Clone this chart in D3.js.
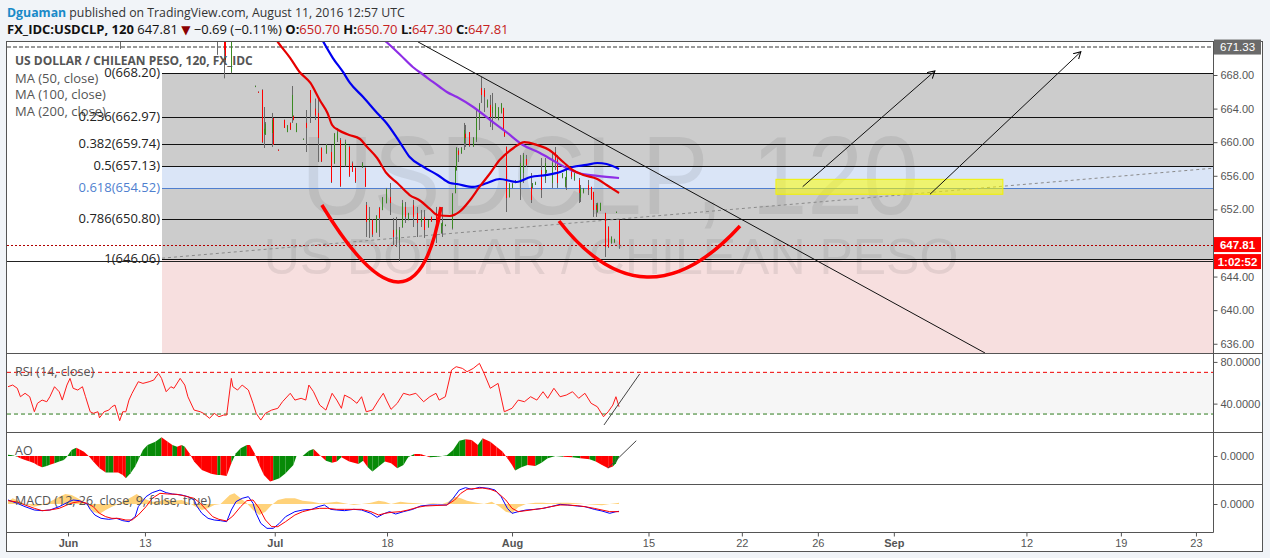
<!DOCTYPE html>
<html>
<head>
<meta charset="utf-8">
<script src="https://cdnjs.cloudflare.com/ajax/libs/d3/7.8.5/d3.min.js"></script>
<style>
  body { margin: 0; background: #f1f4f8; }
  svg { display: block; font-family: "Open Sans", sans-serif; }
  .ax text { font-family: "Liberation Sans", Arial, sans-serif; font-size: 11px; fill: #555; }
  .ax line { stroke: #555; }
  .ax path { display: none; }
</style>
</head>
<body>
<div id="chart"></div>
<script>
//Datos (indice de barra de 2 horas, valor)
const timeTickBars = [38.7, 88.3, 172, 244.4, 325, 413, 473.2, 522.2, 571.2, 656.7, 717.6, 766];
const timeTickLabels = ['Jun', '13', 'Jul', '18', 'Aug', '15', '22', '26', 'Sep', '12', '19', '23'];
const priceTicks = [636, 640, 644, 648, 652, 656, 660, 664, 668];

//[barra, apertura, maximo, minimo, cierre]
const candles = [
  [72, 673.6, 674.2, 671.1, 672.5], [135, 672.8, 674.0, 670.4, 673.2], [139, 673.5, 674.0, 667.6, 671.0],
  [140, 673.0, 674.0, 669.5, 669.8], [144, 668.4, 674.0, 668.2, 673.0],
  [159, 666.6, 666.75, 666.55, 666.7], [161, 666.0, 666.05, 665.9, 665.95], [164, 666.21, 666.3, 659.9, 660.0],
  [165, 661.0, 664.19, 659.31, 661.6], [166, 660.9, 662.4, 660.86, 662.2], [170, 661.1, 663.48, 659.43, 662.64],
  [171, 662.88, 662.9, 659.67, 659.7], [174, 659.1, 659.15, 659.0, 659.05], [178, 662.64, 662.7, 661.69, 661.7],
  [180, 661.2, 662.05, 661.2, 662.0], [182, 662.3, 662.35, 661.45, 661.5], [183, 663.0, 666.69, 662.29, 665.62],
  [184, 663.1, 663.2, 662.6, 662.64], [186, 661.2, 662.29, 661.21, 662.2], [190, 660.3, 660.45, 660.3, 660.4],
  [192, 662.3, 663.83, 658.83, 661.7], [195, 666.2, 666.21, 662.29, 664.7], [198, 664.0, 665.2, 662.64, 663.2],
  [200, 663.48, 665.38, 657.64, 660.5], [202, 659.31, 659.4, 657.64, 657.7], [205, 658.71, 659.8, 658.6, 659.67],
  [208, 658.83, 659.67, 655.14, 655.26], [210, 657.52, 661.1, 657.4, 661.0], [212, 660.3, 661.69, 660.02, 661.2],
  [214, 660.26, 660.5, 654.67, 654.8], [217, 657.29, 660.3, 657.1, 660.0], [220, 659.43, 659.6, 655.86, 656.0],
  [222, 657.5, 657.7, 656.45, 656.5], [224, 656.93, 657.0, 655.14, 655.3], [228, 657.0, 657.64, 656.93, 657.5],
  [230, 656.93, 657.0, 654.67, 654.7], [231, 652.52, 652.88, 648.71, 650.5], [233, 650.5, 652.29, 648.6, 651.0],
  [235, 650.74, 650.8, 648.71, 649.0], [237, 649.3, 651.33, 649.2, 651.2], [239, 652.17, 652.29, 648.71, 650.98],
  [241, 651.93, 653.48, 651.9, 653.4], [244, 652.76, 654.55, 652.7, 654.4], [246, 653.48, 655.14, 651.33, 652.76],
  [248, 649.55, 650.98, 647.76, 648.71], [250, 649.0, 651.1, 647.52, 649.6], [252, 648.36, 649.9, 645.74, 649.55],
  [254, 649.9, 653.12, 649.8, 652.76], [256, 652.29, 652.88, 650.38, 651.1], [258, 650.74, 651.6, 650.7, 651.57],
  [261, 652.52, 653.12, 649.9, 651.1], [264, 651.57, 652.29, 648.71, 650.38], [266, 650.5, 651.93, 649.9, 651.0],
  [268, 651.1, 651.93, 648.6, 649.55], [271, 649.9, 650.74, 649.8, 650.7], [273, 651.1, 651.15, 650.5, 650.55],
  [276, 651.57, 652.29, 648.0, 649.9], [279, 649.19, 650.38, 649.1, 650.3], [280, 650.0, 652.29, 648.71, 650.5],
  [282, 650.1, 650.2, 650.0, 650.15], [286, 649.79, 653.95, 649.6, 653.8], [288, 653.95, 657.05, 653.9, 657.0],
  [289, 656.69, 659.43, 656.6, 659.3], [290, 659.0, 659.31, 657.64, 658.5], [292, 658.71, 659.43, 658.6, 659.3],
  [294, 659.9, 662.29, 659.07, 661.45], [295, 661.0, 662.05, 659.43, 660.5], [297, 661.2, 661.21, 659.43, 659.6],
  [300, 659.5, 660.62, 659.43, 660.5], [302, 660.3, 663.83, 660.02, 662.9], [304, 662.8, 664.67, 661.45, 664.5],
  [305, 666.45, 667.76, 664.67, 665.62], [307, 666.2, 666.45, 663.6, 665.4], [309, 664.2, 665.1, 664.1, 665.0],
  [311, 664.43, 665.62, 661.81, 663.0], [312, 663.5, 665.86, 661.45, 664.2], [314, 662.9, 664.67, 662.8, 664.5],
  [316, 662.7, 664.19, 662.6, 664.1], [318, 663.5, 664.67, 663.4, 664.6], [319, 664.07, 664.1, 661.45, 661.5],
  [320, 661.4, 661.45, 660.62, 660.7], [321, 659.43, 659.5, 651.69, 653.36], [323, 653.48, 655.14, 653.4, 655.0],
  [325, 654.6, 655.14, 654.5, 655.0], [327, 655.2, 655.5, 655.1, 655.45], [330, 655.14, 658.48, 653.12, 657.52],
  [332, 656.33, 658.71, 655.14, 658.48], [334, 658.0, 658.48, 657.05, 657.3], [337, 654.67, 656.33, 652.76, 653.12],
  [338, 654.6, 655.14, 654.5, 655.1], [340, 654.95, 655.3, 654.9, 655.25], [344, 656.69, 658.12, 653.36, 654.31],
  [346, 655.5, 658.12, 655.14, 657.52], [347, 656.5, 656.7, 656.3, 656.69], [351, 655.14, 658.71, 654.55, 657.52],
  [353, 658.83, 659.43, 656.69, 657.88], [354, 657.88, 658.48, 654.55, 655.14], [357, 655.8, 656.33, 655.7, 656.3],
  [359, 654.7, 655.86, 654.6, 655.8], [360, 655.5, 657.29, 654.31, 657.0], [363, 656.5, 656.7, 655.6, 655.9],
  [365, 655.5, 656.33, 655.4, 656.3], [368, 655.5, 655.74, 652.76, 653.95], [369, 653.4, 654.9, 652.88, 654.6],
  [371, 654.0, 654.55, 653.9, 654.5], [374, 654.9, 655.5, 653.71, 654.31], [376, 654.67, 654.7, 653.12, 653.2],
  [377, 654.07, 654.1, 651.1, 651.93], [379, 652.52, 652.76, 651.1, 651.93], [380, 651.69, 652.8, 651.6, 652.7],
  [382, 651.9, 652.8, 651.8, 652.76], [385, 651.57, 651.6, 646.33, 647.52], [387, 649.9, 650.0, 647.4, 647.52],
  [389, 648.0, 648.8, 647.9, 648.7], [391, 648.1, 648.5, 648.0, 648.4], [392, 651.6, 651.75, 651.6, 651.7],
  [394, 650.70, 650.70, 647.30, 647.81]
];

//Medias moviles
const ma50 = [[168, 673.6], [174, 671.93], [182, 670.02], [188, 668.36], [195, 667.05], [201, 665.02], [206, 663.48],
  [209, 662.05], [213, 661.45], [220, 660.86], [227, 660.38], [231, 659.55], [238, 658.12], [244, 656.33], [251, 655.14],
  [259, 653.71], [266, 653.0], [272, 652.05], [277, 651.33], [285, 651.21], [291, 651.69], [298, 653.12], [304, 654.67],
  [311, 656.33], [317, 657.88], [326, 659.31], [333, 660.02], [341, 659.67], [349, 659.07], [358, 657.64], [364, 656.69],
  [371, 656.10], [380, 655.62], [386, 654.90], [394, 653.95]];
const ma100 = [[202, 672.40], [209.5, 670.02], [216, 668.36], [220.5, 667.05], [229, 665.38], [238, 663.48], [244, 662.29],
  [253, 659.90], [259, 658.24], [268, 657.05], [277, 656.10], [285, 655.14], [289.5, 655.02], [300, 654.67], [309, 655.14],
  [317, 655.62], [328, 655.26], [337, 655.86], [347.5, 656.10], [356, 656.45], [364, 657.05], [373, 657.29], [380, 657.52],
  [386, 657.40], [394, 656.81]];
const ma200 = [[233, 673.60], [244, 671.93], [253, 670.38], [261, 668.95], [268, 668.0], [274, 667.17], [278.5, 666.57],
  [283, 665.98], [289.5, 665.38], [300, 664.19], [311, 662.64], [322, 661.10], [332, 659.67], [343, 658.71], [351, 657.88],
  [360, 656.93], [368, 656.33], [380, 655.98], [394, 655.74]];

//Fibonacci
const fibLevels = [0, 0.236, 0.382, 0.5, 0.618, 0.786, 1, 1.618];
const fibHigh = 668.20, fibLow = 646.06, fibStartBar = 99.3;

//Dibujos
const highLine = 671.33, lastPrice = 647.81, supportLine = 645.9;
const downTrend = [[264.3, 671.95], [630, 634.9]];
const upTrend = [[99.3, 646.19], [777, 656.9]];
const yellowBox = [[495.2, 655.58], [641.5, 653.80]];
const arrows = [[[512.4, 654.70], [597.7, 668.48]], [[594.5, 653.80], [691.8, 670.77]]];
const cups = [[[202.4, 652.52], [251.5, 643.36], [279.2, 652.29]], [[355.3, 650.62], [412, 643.95], [472, 650.02]]];

//RSI
const rsi = [[0,56.2],[3,57.8],[6,54.7],[8,46.6],[11,49.9],[14,46.6],[17,32.2],[19,40.3],[22,43.4],[25,41.8],[27,46.6],
  [30,56.2],[33,51.4],[35,43.4],[38,57.8],[40,64.2],[42,54.7],[45,53.0],[48,56.2],[50,46.6],[53,32.2],[55,30.7],[58,32.2],
  [59,26.4],[62,32.2],[65,33.8],[67,37.0],[69,38.6],[72,23.6],[74,32.2],[76,32.2],[78,43.4],[80,49.9],[84,61.0],[87,59.4],
  [91,61.0],[94,62.6],[97,69.0],[99,64.2],[102,51.4],[105,56.2],[107,54.7],[111,64.2],[114,57.8],[116,46.6],[120,33.8],
  [124,32.2],[126,30.7],[130,25.9],[133,30.7],[136,27.4],[139,29.0],[141,29.0],[144,64.2],[145,56.2],[148,53.0],[151,57.8],
  [155,53.0],[158,40.3],[160,30.7],[163,24.2],[166,30.7],[170,33.8],[174,35.5],[177,41.8],[182,49.9],[185,43.4],[189,45.1],
  [192,43.4],[194,57.8],[197,51.4],[201,38.6],[205,33.8],[209,49.9],[212,43.4],[215,35.5],[217,48.2],[221,45.1],[225,40.3],
  [228,46.6],[231,32.2],[235,33.8],[239,43.4],[242,49.9],[244,43.4],[247,34.5],[251,40.3],[255,49.9],[259,48.2],[263,49.9],
  [268,41.8],[272,46.6],[276,49.9],[278,43.4],[282,46.6],[286,72.2],[289,75.4],[293,73.8],[296,70.6],[300,73.8],[304,78.6],
  [307,69.0],[311,54.7],[316,59.4],[320,32.2],[325,35.5],[329,43.4],[333,41.8],[337,46.6],[341,43.4],[345,51.4],[348,45.1],
  [352,54.7],[356,46.6],[360,48.2],[364,51.4],[368,45.1],[372,49.9],[376,40.3],[380,37.0],[384,27.4],[387,32.2],[390,38.6],
  [392,46.6],[394,37.0]];
const rsiUpper = 70, rsiLower = 30;
const rsiTrend = [[384.3, 19.5], [407.3, 68.4]];

//Awesome Oscillator [barra, valor, color]
const ao = [[0,0.37,'g'],[3,0.19,'g'],[6,-0.19,'r'],[8,-0.65,'r'],[11,-1.11,'r'],[14,-1.57,'r'],[17,-2.04,'r'],[19,-2.59,'r'],
  [22,-3.15,'g'],[25,-2.78,'g'],[27,-2.41,'r'],[30,-2.04,'g'],[33,-1.57,'g'],[36,-1.11,'g'],[38,-0.19,'g'],[41,1.67,'g'],
  [44,2.31,'r'],[46,1.85,'r'],[49,1.2,'r'],[52,0,'r'],[55,-1.57,'r'],[59,-3.43,'r'],[63,-4.63,'g'],[65,-4.63,'g'],
  [68,-4.63,'r'],[71,-4.63,'r'],[74,-5.28,'r'],[76,-6.2,'g'],[79,-4.81,'g'],[82,-2.96,'g'],[84,-1.11,'g'],[87,1.67,'g'],
  [90,3.06,'g'],[95,3.98,'g'],[99,5.19,'r'],[103,3.98,'r'],[106,3.06,'g'],[109,2.59,'r'],[112,3.06,'g'],[114,2.59,'r'],
  [117,0.74,'r'],[120,-1.57,'r'],[125,-3.89,'r'],[131,-4.98,'r'],[135,-5.28,'g'],[137,-5.28,'r'],[141,-5.56,'r'],
  [144,-2.04,'g'],[147,0.74,'g'],[150,2.13,'g'],[154,3.06,'r'],[156,3.06,'r'],[159,0.74,'r'],[162,-2.5,'r'],[165,-5.28,'r'],
  [169,-7.13,'r'],[171,-6.85,'g'],[175,-6.2,'g'],[179,-4.81,'g'],[184,-2.5,'g'],[186,0,'r'],[190,0,'g'],[194,1.48,'g'],
  [197,1.94,'r'],[201,0.28,'r'],[205,-1.3,'g'],[209,-1.85,'r'],[212,-1.57,'g'],[215,-0.37,'r'],[220,-1.57,'r'],
  [226,-2.22,'g'],[229,-1.3,'r'],[232,-3.15,'g'],[235,-4.35,'g'],[239,-2.96,'g'],[243,-1.57,'r'],[247,-2.04,'r'],
  [251,-3.43,'g'],[255,-2.5,'g'],[258,-0.37,'g'],[262,0.56,'r'],[266,0.56,'r'],[272,-0.37,'g'],[277,-0.19,'g'],
  [283,0.19,'g'],[287,1.67,'g'],[291,4.26,'g'],[295,4.63,'r'],[299,4.44,'r'],[303,3.06,'g'],[306,4.91,'r'],[311,3.98,'r'],
  [315,2.59,'r'],[319,1.2,'r'],[322,-0.65,'r'],[325,-2.5,'r'],[327,-4.07,'g'],[331,-3.15,'g'],[335,-2.5,'r'],[340,-2.78,'g'],
  [344,-1.85,'g'],[348,-0.65,'g'],[353,0,'g'],[358,-0.19,'r'],[364,-0.37,'g'],[369,-0.65,'r'],[375,-0.93,'g'],
  [379,-1.57,'r'],[383,-2.5,'r'],[387,-3.43,'r'],[390,-2.96,'g'],[392,-2.04,'g'],[394,-0.19,'g']];
const aoTrend = [[386.8, -3.42], [405.1, 4.25]];

//MACD
const macd = [[0,0.6],[6,0.1],[11,-0.4],[17,-0.9],[22,-1.0],[27,-0.9],[33,-0.4],[38,0.2],[42,0.6],[46,0.5],[51,0],[53,-0.8],
  [56,-1.65],[60,-2.15],[65,-2.3],[70,-2.15],[74,-2.5],[78,-2.65],[82,-1.9],[84,-0.4],[89,1.1],[93,1.7],[98,2.1],[102,1.7],
  [106,1.5],[112,1.35],[116,1.1],[120,0.6],[122,-0.4],[125,-1.4],[129,-2.15],[133,-2.4],[137,-2.5],[141,-2.65],[144,-0.9],
  [147,0.35],[151,0.85],[155,1.1],[158,0.1],[160,-1.4],[163,-2.9],[167,-3.65],[171,-3.65],[175,-2.9],[179,-1.9],[185,-1.15],
  [190,-0.9],[196,-0.8],[200,-0.4],[204,-0.15],[208,-0.8],[212,-0.9],[217,-1.0],[223,-0.8],[228,-0.9],[234,-1.4],[238,-2.0],
  [242,-1.5],[246,-1.15],[250,-1.5],[255,-1.15],[261,-0.8],[266,-0.3],[272,-0.15],[277,-0.15],[283,-0.15],[287,0.85],
  [291,2.1],[295,2.45],[299,2.2],[304,2.5],[310,2.35],[314,2.1],[318,1.1],[322,-0.65],[325,-1.4],[329,-1.15],[334,-0.9],
  [340,-0.8],[345,-0.65],[350,-0.4],[356,-0.05],[361,-0.15],[367,-0.3],[372,-0.4],[378,-0.8],[383,-1.05],[388,-1.4],
  [392,-1.15],[394,-1.1]];
const signal = [[0,0.5],[6,0.3],[11,-0.15],[17,-0.65],[22,-1.0],[27,-0.9],[33,-0.65],[38,-0.15],[42,0.2],[46,0.35],[51,0.1],
  [55,-0.4],[59,-1.4],[63,-1.9],[67,-2.15],[71,-2.15],[76,-2.4],[80,-2.4],[84,-1.65],[89,-0.4],[93,0.85],[98,1.6],[103,1.5],
  [109,1.45],[114,1.2],[120,0.85],[124,0.1],[128,-0.9],[132,-1.9],[136,-2.3],[141,-2.55],[145,-1.8],[150,-0.4],[154,0.5],
  [158,0.6],[162,-0.65],[166,-2.4],[170,-3.4],[174,-3.4],[179,-2.65],[185,-1.65],[190,-1.15],[196,-0.8],[201,-0.65],
  [206,-0.65],[212,-0.8],[217,-0.8],[223,-0.8],[228,-0.8],[234,-1.15],[239,-1.65],[243,-1.4],[247,-1.25],[253,-1.15],
  [258,-0.9],[264,-0.5],[269,-0.3],[274,-0.25],[283,-0.15],[288,0.6],[292,1.6],[296,2.2],[300,2.3],[306,2.4],[311,2.2],
  [315,1.85],[321,0.6],[325,-0.65],[329,-1.15],[334,-1.0],[340,-0.8],[345,-0.65],[350,-0.4],[356,-0.15],[361,-0.15],
  [367,-0.25],[372,-0.4],[378,-0.65],[383,-0.9],[388,-1.15],[392,-1.15],[394,-1.15]];
const macdHist = [[0,0.35],[3,0.85],[7,0.5],[11,0],[17,-0.4],[22,-0.15],[27,0.35],[33,1.1],[37,1.5],[41,1.35],[45,0.85],
  [49,0.35],[52,-0.4],[55,-1.15],[59,-1.5],[63,-0.9],[67,-0.4],[71,0],[76,0.6],[80,1.1],[83,1.5],[87,0.85],[93,0.35],
  [97,0.35],[101,0.7],[106,0.5],[112,0.6],[117,0.1],[121,-0.4],[125,-0.9],[129,-0.65],[133,-0.15],[137,0],[143,1.35],
  [146,1.6],[150,0.85],[154,0.1],[158,-0.9],[162,-1.65],[166,-1.15],[170,-0.15],[174,0.6],[179,0.85],[185,0.85],[190,0.5],
  [196,0.35],[201,0.1],[206,0.2],[212,0.35],[217,0.1],[223,-0.15],[228,0],[234,0.2],[239,0.5],[243,0.35],[247,0],
  [253,0.35],[258,0.2],[264,0.1],[269,0],[274,0.1],[280,0],[284,0.35],[288,1.1],[292,0.85],[296,0.5],[302,0.2],[307,0],
  [312,0.35],[317,-0.4],[321,-1.15],[325,-1.4],[329,-0.5],[334,0],[340,0.2],[345,0.2],[350,0.1],[356,0.2],[361,0.2],
  [367,0.1],[372,0],[378,-0.1],[383,-0.2],[388,0],[392,0.1],[394,0.2]];

//Dimensiones
const W = 1270, H = 558;
const plotL = 7, plotR = 1213, frameR = 1262;
const mainTop = 42, mainBot = 353.5, rsiBot = 432.5, aoBot = 484.5, macdBot = 532.5, frameBot = 551.5;

const svg = d3.select('#chart').append('svg').attr('width', W).attr('height', H);
svg.append('rect').attr('width', W).attr('height', H).attr('fill', '#f1f4f8');

//Cabecera
const head1 = svg.append('text').attr('x', 7).attr('y', 17).attr('font-size', 12.3).attr('fill', '#333');
head1.append('tspan').attr('fill', '#1a8ac8').attr('font-weight', 'bold').text('Dguaman');
head1.append('tspan').text(' published on TradingView.com, August 11, 2016 12:57 UTC');

const head2 = svg.append('text').attr('x', 7).attr('y', 34).attr('font-size', 13).attr('fill', '#111');
head2.append('tspan').attr('font-weight', 'bold').text('FX_IDC:USDCLP, 120');
head2.append('tspan').text('  647.81 ');
head2.append('tspan').attr('fill', '#8b0000').attr('font-family', 'DejaVu Sans').attr('font-size', 12).text('▼');
head2.append('tspan').text(' −0.69 (−0.11%)  ');
[['O:', '650.70'], ['H:', '650.70'], ['L:', '647.30'], ['C:', '647.81']].forEach(function(p, i) {
    head2.append('tspan').attr('font-weight', 'bold').text((i ? ' ' : '') + p[0]);
    head2.append('tspan').attr('fill', '#c62020').text(p[1]);
});

//Marco
svg.append('rect').attr('x', 6.5).attr('y', 41.5).attr('width', frameR - 6).attr('height', frameBot - 41.5)
    .attr('fill', '#fff').attr('stroke', '#555');

//Escalas
const x = d3.scaleLinear().domain([0, 777]).range([8, plotR]);
const y = d3.scaleLinear().domain([634.9, 671.93]).range([353, 42]);
const yRsi = d3.scaleLinear().domain([11.8, 87.6]).range([433, 354]);
const yAo = d3.scaleLinear().domain([-7.8, 6.4]).range([484, 433]);
const yMacd = d3.scaleLinear().domain([-4.35, 3.0]).range([533, 484]);

const defs = svg.append('defs');
function clip(id, y0, y1) {
    defs.append('clipPath').attr('id', id).append('rect')
        .attr('x', plotL).attr('y', y0).attr('width', plotR - plotL).attr('height', y1 - y0);
}
clip('cMain', mainTop, mainBot);
clip('cRsi', mainBot, rsiBot);
clip('cAo', rsiBot, aoBot);
clip('cMacd', aoBot, macdBot);
defs.append('marker').attr('id', 'arrowHead').attr('markerUnits', 'userSpaceOnUse')
    .attr('markerWidth', 10).attr('markerHeight', 10).attr('refX', 7).attr('refY', 4).attr('orient', 'auto')
    .append('path').attr('d', 'M0,0 L7,4 L0,8').attr('fill', 'none').attr('stroke', '#000').attr('stroke-width', 1);

/////
// Panel principal
/////
const main = svg.append('g').attr('clip-path', 'url(#cMain)');

//Fibonacci: bandas y lineas
const fibPrices = fibLevels.map(function(l) { return fibHigh - l * (fibHigh - fibLow); });
const bandColors = ['#cccccc', '#cccccc', '#cccccc', '#dae5f7', '#cccccc', '#cccccc', '#f7dfdf'];
fibPrices.slice(0, -1).forEach(function(p, i) {
    main.append('rect').attr('x', x(fibStartBar)).attr('width', plotR - x(fibStartBar))
        .attr('y', y(p)).attr('height', y(fibPrices[i + 1]) - y(p)).attr('fill', bandColors[i]);
});

//Marca de agua
main.append('text').attr('x', 610).attr('y', 214).attr('text-anchor', 'middle')
    .attr('font-family', 'Liberation Sans, Arial').attr('font-size', 112)
    .attr('textLength', 618).attr('lengthAdjust', 'spacingAndGlyphs')
    .attr('fill', 'rgba(60,60,60,0.1)').text('USDCLP, 120');
main.append('text').attr('x', 611).attr('y', 274).attr('text-anchor', 'middle')
    .attr('font-family', 'Liberation Sans, Arial').attr('font-size', 50)
    .attr('fill', 'rgba(60,60,60,0.1)').text('US DOLLAR / CHILEAN PESO');

fibPrices.forEach(function(p, i) {
    main.append('line').attr('x1', x(fibStartBar)).attr('x2', plotR)
        .attr('y1', Math.round(y(p)) + 0.5).attr('y2', Math.round(y(p)) + 0.5)
        .attr('stroke', fibLevels[i] === 0.618 ? '#4f7fcf' : '#111').attr('stroke-width', 1);
});

//Lineas horizontales
main.append('line').attr('x1', plotL).attr('x2', plotR).attr('y1', Math.round(y(supportLine)) + 0.5)
    .attr('y2', Math.round(y(supportLine)) + 0.5).attr('stroke', '#222');
main.append('line').attr('x1', plotL).attr('x2', plotR).attr('y1', y(highLine)).attr('y2', y(highLine))
    .attr('stroke', '#9a9a9a').attr('stroke-width', 2).attr('stroke-dasharray', '4,2');
main.append('line').attr('x1', plotL).attr('x2', plotR).attr('y1', Math.round(y(lastPrice)) + 0.5)
    .attr('y2', Math.round(y(lastPrice)) + 0.5).attr('stroke', '#b00000').attr('stroke-dasharray', '2,2');
main.append('line').attr('x1', x(upTrend[0][0])).attr('y1', y(upTrend[0][1]))
    .attr('x2', x(upTrend[1][0])).attr('y2', y(upTrend[1][1]))
    .attr('stroke', '#8a8a8a').attr('stroke-dasharray', '3,3');

//Velas
main.append('g').selectAll('line').data(candles).join('line')
    .attr('x1', function(d) { return Math.round(x(d[0])) + 0.5; })
    .attr('x2', function(d) { return Math.round(x(d[0])) + 0.5; })
    .attr('y1', function(d) { return y(d[2]); })
    .attr('y2', function(d) { return y(d[3]); })
    .attr('stroke', '#6a6a6a');
main.append('g').selectAll('rect').data(candles).join('rect')
    .attr('x', function(d) { return Math.round(x(d[0])); })
    .attr('width', 1)
    .attr('y', function(d) { return y(Math.max(d[1], d[4])); })
    .attr('height', function(d) { return Math.max(1, Math.abs(y(d[1]) - y(d[4]))); })
    .attr('fill', function(d) { return d[4] >= d[1] ? '#3a8a22' : '#ff0000'; });

//Medias
const line = d3.line().x(function(d) { return x(d[0]); }).y(function(d) { return y(d[1]); }).curve(d3.curveMonotoneX);
[[ma200, '#8e2ee6'], [ma100, '#0000f0'], [ma50, '#e60000']].forEach(function(m) {
    main.append('path').attr('d', line(m[0])).attr('fill', 'none').attr('stroke', m[1]).attr('stroke-width', 2.2);
});

//Dibujos
cups.forEach(function(c) {
    const p0 = [x(c[0][0]), y(c[0][1])], pm = [x(c[1][0]), y(c[1][1])], p2 = [x(c[2][0]), y(c[2][1])];
    const path = d3.path();
    path.moveTo(p0[0], p0[1]);
    path.quadraticCurveTo(2 * pm[0] - (p0[0] + p2[0]) / 2, 2 * pm[1] - (p0[1] + p2[1]) / 2, p2[0], p2[1]);
    main.append('path').attr('d', path.toString()).attr('fill', 'none').attr('stroke', '#ff0000').attr('stroke-width', 3.5);
});
main.append('line').attr('x1', x(downTrend[0][0])).attr('y1', y(downTrend[0][1]))
    .attr('x2', x(downTrend[1][0])).attr('y2', y(downTrend[1][1])).attr('stroke', '#111');
main.append('rect').attr('x', x(yellowBox[0][0])).attr('y', y(yellowBox[0][1]))
    .attr('width', x(yellowBox[1][0]) - x(yellowBox[0][0])).attr('height', y(yellowBox[1][1]) - y(yellowBox[0][1]))
    .attr('fill', 'rgba(255,255,0,0.55)').attr('stroke', '#f2f200');
arrows.forEach(function(a) {
    main.append('line').attr('x1', x(a[0][0])).attr('y1', y(a[0][1])).attr('x2', x(a[1][0])).attr('y2', y(a[1][1]))
        .attr('stroke', '#111').attr('marker-end', 'url(#arrowHead)');
});

//Leyendas
svg.append('text').attr('x', 15).attr('y', 65).attr('font-size', 12).attr('font-weight', 'bold')
    .attr('fill', '#555').text('US DOLLAR / CHILEAN PESO, 120, FX_IDC');
['MA (50, close)', 'MA (100, close)', 'MA (200, close)'].forEach(function(t, i) {
    svg.append('text').attr('x', 15).attr('y', 82.5 + i * 16.5).attr('font-size', 13).attr('fill', '#555').text(t);
});
fibPrices.forEach(function(p, i) {
    if (y(p) < mainTop || y(p) > mainBot) return;
    svg.append('text').attr('x', x(fibStartBar) - 2).attr('y', y(p) - 1).attr('dy', '0.35em')
        .attr('text-anchor', 'end').attr('font-size', 13)
        .attr('fill', fibLevels[i] === 0.618 ? '#4f7fcf' : '#222')
        .text(fibLevels[i] + '(' + p.toFixed(2) + ')');
});

/////
// RSI
/////
const rsiG = svg.append('g').attr('clip-path', 'url(#cRsi)');
rsiG.append('rect').attr('x', plotL).attr('width', plotR - plotL).attr('y', yRsi(rsiUpper))
    .attr('height', yRsi(rsiLower) - yRsi(rsiUpper)).attr('fill', '#f6f6f6');
rsiG.append('line').attr('x1', plotL).attr('x2', plotR).attr('y1', yRsi(rsiUpper)).attr('y2', yRsi(rsiUpper))
    .attr('stroke', '#ee0000').attr('stroke-dasharray', '4,3');
rsiG.append('line').attr('x1', plotL).attr('x2', plotR).attr('y1', yRsi(rsiLower)).attr('y2', yRsi(rsiLower))
    .attr('stroke', '#2c7a1c').attr('stroke-dasharray', '4,3');
rsiG.append('path').attr('d', d3.line().x(function(d) { return x(d[0]); }).y(function(d) { return yRsi(d[1]); })(rsi))
    .attr('fill', 'none').attr('stroke', '#ff1a1a').attr('stroke-width', 1);
rsiG.append('line').attr('x1', x(rsiTrend[0][0])).attr('y1', yRsi(rsiTrend[0][1]))
    .attr('x2', x(rsiTrend[1][0])).attr('y2', yRsi(rsiTrend[1][1])).attr('stroke', '#444');
svg.append('text').attr('x', 15).attr('y', 376).attr('font-size', 12.5).attr('fill', '#555').text('RSI (14, close)');

/////
// AO
/////
const aoG = svg.append('g').attr('clip-path', 'url(#cAo)');
ao.slice(0, -1).forEach(function(d, i) {
    const n = ao[i + 1];
    const pts = [[x(d[0]), yAo(0)], [x(d[0]), yAo(d[1])], [x(n[0]), yAo(n[1])], [x(n[0]), yAo(0)]];
    aoG.append('path').attr('d', 'M' + pts.join('L') + 'Z')
        .attr('fill', d[2] === 'g' ? '#078a07' : '#ff0000');
});
aoG.append('line').attr('x1', x(aoTrend[0][0])).attr('y1', yAo(aoTrend[0][1]))
    .attr('x2', x(aoTrend[1][0])).attr('y2', yAo(aoTrend[1][1])).attr('stroke', '#444');
svg.append('text').attr('x', 15).attr('y', 455).attr('font-size', 12.5).attr('fill', '#555').text('AO');

/////
// MACD
/////
const macdG = svg.append('g').attr('clip-path', 'url(#cMacd)');
macdG.append('path')
    .attr('d', d3.area().x(function(d) { return x(d[0]); }).y0(yMacd(0)).y1(function(d) { return yMacd(d[1]); })(macdHist))
    .attr('fill', '#ffd27a');
const macdLine = d3.line().x(function(d) { return x(d[0]); }).y(function(d) { return yMacd(d[1]); });
macdG.append('path').attr('d', macdLine(macd)).attr('fill', 'none').attr('stroke', '#0000ff');
macdG.append('path').attr('d', macdLine(signal)).attr('fill', 'none').attr('stroke', '#ff0000');
svg.append('text').attr('x', 15).attr('y', 505).attr('font-size', 12.5).attr('fill', '#555')
    .text('MACD (12, 26, close, 9, false, true)');

/////
// Separadores y ejes
/////
[mainBot, rsiBot, aoBot].forEach(function(v) {
    svg.append('line').attr('x1', 7).attr('x2', frameR).attr('y1', v).attr('y2', v).attr('stroke', '#555');
});
svg.append('line').attr('x1', 7).attr('x2', plotR + 0.5).attr('y1', macdBot).attr('y2', macdBot).attr('stroke', '#555');
svg.append('line').attr('x1', plotR + 0.5).attr('x2', plotR + 0.5).attr('y1', 42).attr('y2', macdBot).attr('stroke', '#555');

const fmt4 = d3.format('.4f');
svg.append('g').attr('class', 'ax').attr('transform', 'translate(' + (plotR + 0.5) + ',0)')
    .call(d3.axisRight(y).tickValues(priceTicks).tickSize(4).tickFormat(d3.format('.2f')));
svg.append('g').attr('class', 'ax').attr('transform', 'translate(' + (plotR + 0.5) + ',0)')
    .call(d3.axisRight(yRsi).tickValues([40, 80]).tickSize(4).tickFormat(fmt4));
svg.append('g').attr('class', 'ax').attr('transform', 'translate(' + (plotR + 0.5) + ',0)')
    .call(d3.axisRight(yAo).tickValues([0]).tickSize(4).tickFormat(fmt4));
svg.append('g').attr('class', 'ax').attr('transform', 'translate(' + (plotR + 0.5) + ',0)')
    .call(d3.axisRight(yMacd).tickValues([0]).tickSize(4).tickFormat(fmt4));

const xAxis = svg.append('g').attr('class', 'ax').attr('transform', 'translate(0,' + macdBot + ')')
    .call(d3.axisBottom(x).tickValues(timeTickBars).tickSize(4)
        .tickFormat(function(d, i) { return timeTickLabels[i]; }));
xAxis.selectAll('text').attr('font-weight', function(d, i) { return isNaN(+timeTickLabels[i]) ? 'bold' : 'normal'; });

//Etiquetas de precio
function priceTag(py, txt, bg, bold) {
    svg.append('rect').attr('x', plotR + 1).attr('y', py - 7.5).attr('width', 47).attr('height', 15).attr('fill', bg);
    svg.append('text').attr('x', plotR + 24.5).attr('y', py).attr('dy', '0.35em').attr('text-anchor', 'middle')
        .attr('font-family', 'Liberation Sans, Arial').attr('font-size', 11.5)
        .attr('font-weight', bold ? 'bold' : 'normal').attr('fill', '#fff').text(txt);
}
priceTag(y(highLine), highLine.toFixed(2), '#6a6a6a', false);
priceTag(y(lastPrice), lastPrice.toFixed(2), '#ff0000', true);
priceTag(y(lastPrice) + 17, '1:02:52', '#ff0000', true);
</script>
</body>
</html>
